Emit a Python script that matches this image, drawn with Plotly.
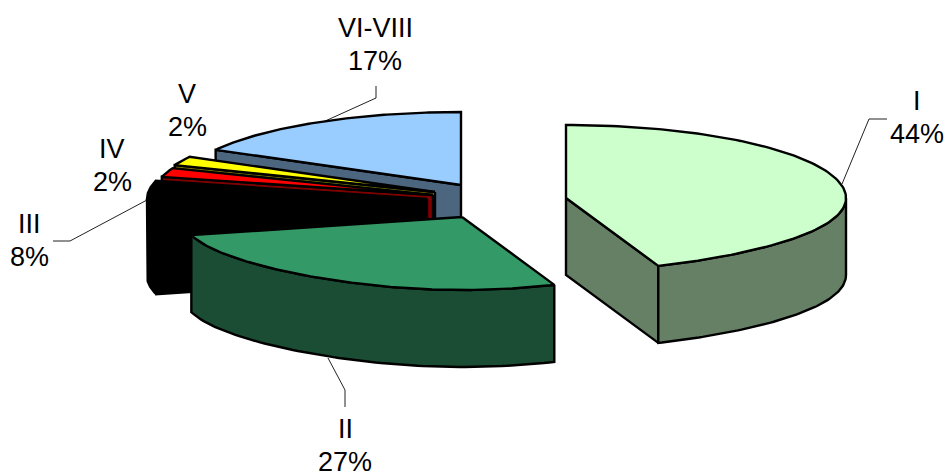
import numpy as np
import plotly.graph_objects as go

# Share of each class, in percent
categories = ["I", "II", "III", "IV", "V", "VI-VIII"]
shares = [44, 27, 8, 2, 2, 17]

top_colors = ["#CCFFCC", "#339966", "#000000", "#FF0000", "#FFFF00", "#99CCFF"]
side_colors = ["#668066", "#1A4D33", "#000000", "#800000", "#808000", "#4D6680"]

# Exploded position of each wedge's tip on the canvas
tips = [(566, 198), (462, 217), (427, 199), (433, 195), (435, 192), (461, 185)]

RX, RY, DEPTH = 280, 73, 77
FRONT_PINCH = 0.13
OUTLINE = 2.4
FONT = dict(family="Liberation Sans, Arial, sans-serif", size=27, color="black")
LINE_GAP = 33

label_pos = [(917, 117), (345, 445), (29, 240), (112, 165), (187, 110), (375, 44)]
leaders = [
    [(887, 119), (869, 119), (842, 184)],
    [(345, 407), (345, 390), (328, 358)],
    [(53, 241), (70, 241), (147, 200)],
    [(376, 86), (376, 98), (323, 122)],
]


def project(tip, deg, drop=0.0):
    """Map a pie angle (clockwise from 12 o'clock) to the tilted canvas."""
    t = np.radians(deg)
    c = np.cos(t)
    squeeze = 1 - FRONT_PINCH * np.clip(-c, 0, 1) ** 3
    return tip[0] + RX * np.sin(t) * squeeze, tip[1] - RY * c + drop


def face(xs, ys, fill):
    return go.Scatter(
        x=list(xs) + [xs[0]], y=list(ys) + [ys[0]],
        mode="lines", fill="toself", fillcolor=fill,
        line=dict(color="black", width=OUTLINE),
        hoverinfo="skip", showlegend=False,
    )


def wedge_faces(tip, start, end, top, side):
    traces = []
    # Radial walls that turn toward the viewer
    for angle, normal in ((start, start - 90), (end, end + 90)):
        if np.cos(np.radians(normal)) < -1e-6:
            ex, ey = project(tip, angle)
            traces.append(face(
                [tip[0], ex, ex, tip[0]],
                [tip[1], ey, ey + DEPTH, tip[1] + DEPTH], side))
    # Curved rim on the near half of the pie
    lo, hi = max(start, 90), min(end, 270)
    if hi > lo:
        ang = np.linspace(lo, hi, 80)
        ux, uy = project(tip, ang)
        traces.append(face(
            np.r_[ux, ux[::-1]], np.r_[uy, uy[::-1] + DEPTH], side))
    # Top surface
    ang = np.linspace(start, end, 120)
    ax, ay = project(tip, ang)
    traces.append(face(np.r_[tip[0], ax], np.r_[tip[1], ay], top))
    return traces


edges = np.cumsum([0] + shares) * 3.6
fig = go.Figure()

for path in leaders:
    fig.add_trace(go.Scatter(
        x=[p[0] for p in path], y=[p[1] for p in path], mode="lines",
        line=dict(color="#222222", width=1), hoverinfo="skip", showlegend=False,
    ))

# Paint from the back of the pie toward the front
for i in [5, 4, 3, 2, 1, 0]:
    fig.add_traces(wedge_faces(tips[i], edges[i], edges[i + 1],
                               top_colors[i], side_colors[i]))

# Class name above its percentage, on two separately spaced rows
for name, share, (lx, ly) in zip(categories, shares, label_pos):
    for text, dy in ((name, -LINE_GAP / 2), (f"{share}%", LINE_GAP / 2)):
        fig.add_annotation(
            x=lx, y=ly + dy, xref="x", yref="y", text=text,
            showarrow=False, font=FONT, align="center",
        )

fig.update_layout(
    width=945, height=472, margin=dict(l=0, r=0, t=0, b=0),
    paper_bgcolor="white", plot_bgcolor="white", showlegend=False,
    xaxis=dict(range=[0, 945], visible=False, fixedrange=True),
    yaxis=dict(range=[472, 0], visible=False, fixedrange=True),
)

fig.write_html("out.html", config={"displayModeBar": False})
